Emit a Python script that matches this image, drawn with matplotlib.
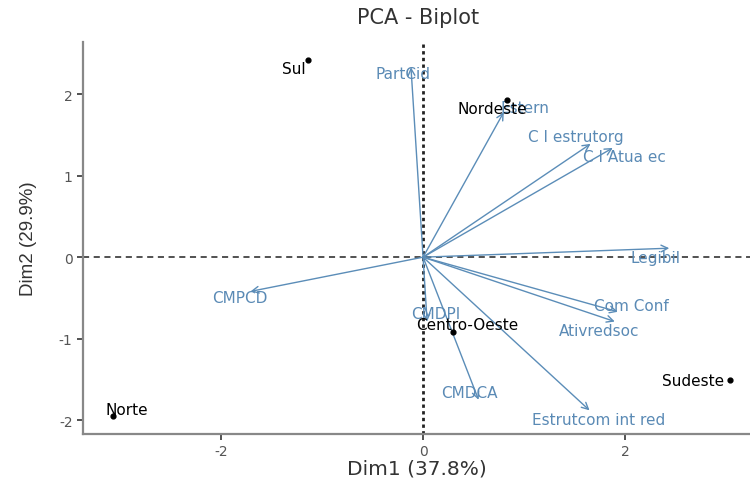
import matplotlib.pyplot as plt
import numpy as np

plt.rcParams['font.family'] = ['DejaVu Sans']
plt.rcParams['axes.unicode_minus'] = False

# individuals (regions)
regions = ['Sul', 'Nordeste', 'Centro-Oeste', 'Sudeste', 'Norte']
reg_x = [-1.14, 0.83, 0.30, 3.04, -3.07]
reg_y = [2.42, 1.93, -0.92, -1.51, -1.95]
reg_lx = [-1.28, 0.69, 0.44, 2.68, -2.94]
reg_ly = [2.32, 1.83, -0.83, -1.51, -1.87]

# variable loadings (arrow tips) and label positions
variables = ['PartCid', 'Estern', 'C I estrutorg', 'C I Atua ec', 'Legibil',
             'Com Conf', 'Ativredsoc', 'Estrutcom int red', 'CMDCA', 'CMDPI', 'CMPCD']
var_x = [-0.12, 0.80, 1.66, 1.88, 2.44, 1.93, 1.90, 1.65, 0.55, 0.04, -1.71]
var_y = [2.33, 1.78, 1.39, 1.34, 0.11, -0.67, -0.79, -1.88, -1.75, -0.79, -0.42]
var_lx = [-0.20, 1.01, 1.51, 2.00, 2.30, 2.06, 1.74, 1.74, 0.46, 0.13, -1.82]
var_ly = [2.25, 1.84, 1.48, 1.24, 0.0, -0.59, -0.90, -1.99, -1.66, -0.69, -0.50]

arrow_col = '#5b8db8'
text_col = '#5a8ab5'

fig = plt.figure(figsize=(7.5, 4.81), dpi=100)
ax = fig.add_axes([0.1107, 0.0956, 0.8893, 0.815])

ax.axhline(0, color='#222222', linestyle=(0, (4, 3)), linewidth=1.1, zorder=1)
ax.axvline(0, color='#222222', linestyle=(0, (1.2, 1.2)), linewidth=2.0, zorder=1)

for vx, vy in zip(var_x, var_y):
    ax.annotate('', xy=(vx, vy), xytext=(0, 0),
                arrowprops=dict(arrowstyle='->', color=arrow_col, lw=1.0,
                                shrinkA=0, shrinkB=0, mutation_scale=12))
for name, lx, ly in zip(variables, var_lx, var_ly):
    ax.text(lx, ly, name, color=text_col, fontsize=11, ha='center', va='center')

ax.scatter(reg_x, reg_y, s=12, color='black', zorder=3)
for name, lx, ly in zip(regions, reg_lx, reg_ly):
    ax.text(lx, ly, name, color='black', fontsize=11, ha='center', va='center')

ax.set_xlim(-3.37, 3.24)
ax.set_ylim(-2.17, 2.64)
ax.set_xticks([-2, 0, 2])
ax.set_yticks([-2, -1, 0, 1, 2])

for side in ['top', 'right']:
    ax.spines[side].set_visible(False)
for side in ['left', 'bottom']:
    ax.spines[side].set_color('#888888')
    ax.spines[side].set_linewidth(1.6)
ax.tick_params(colors='#333333', labelsize=10, length=4, width=1.2)
for lbl in ax.get_xticklabels() + ax.get_yticklabels():
    lbl.set_color('#555555')

ax.set_xlabel('Dim1 (37.8%)', fontsize=14.5, color='#333333', labelpad=0)
ax.set_ylabel('Dim2 (29.9%)', fontsize=13.5, color='#333333', labelpad=16,
              family='Liberation Sans')
fig.text(0.558, 0.962, 'PCA - Biplot', ha='center', va='center', fontsize=15, color='#333333')

fig.savefig('out.png', dpi=100)
